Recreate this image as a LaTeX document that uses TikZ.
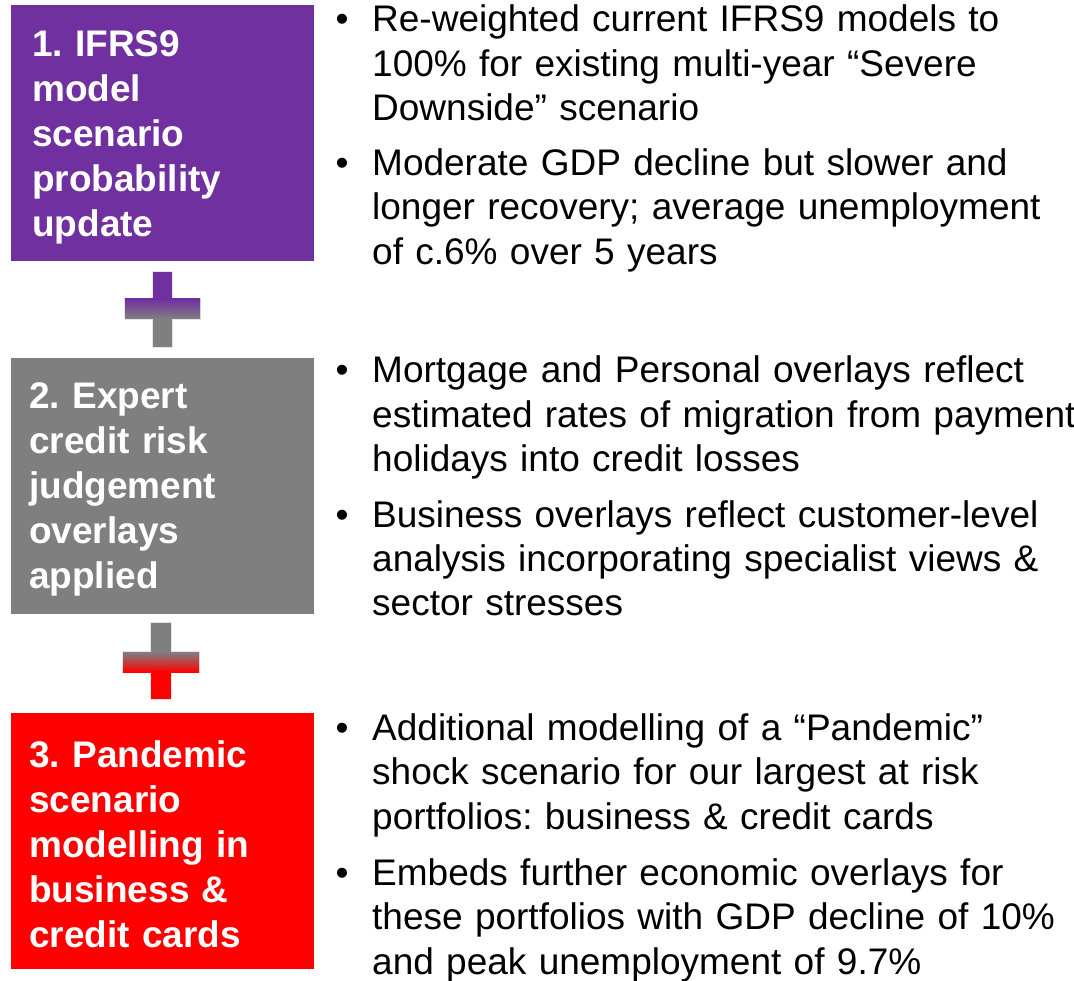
\documentclass[tikz,border=0pt]{standalone}
\usepackage{fontspec}
\setmainfont{Liberation Sans}
\definecolor{ifrspurple}{HTML}{7030A0}
\definecolor{expertgrey}{HTML}{7F7F7F}
\definecolor{pandemicred}{HTML}{FF0000}
\frenchspacing

\begin{document}
\begin{tikzpicture}[x=1pt, y=-1pt]

\tikzstyle{stepbox}=[draw=none, inner sep=0pt, minimum width=303pt, minimum height=256pt, anchor=north west]
\tikzstyle{boxtext}=[anchor=base west, inner sep=0pt, text=white, text width=285pt, align=left, font=\fontsize{37}{45}\selectfont\bfseries]
\tikzstyle{bullettext}=[anchor=base west, inner sep=0pt, text width=800pt, align=left, font=\fontsize{37}{44.5}\selectfont]
\tikzstyle{bulletdot}=[anchor=base, inner sep=0pt, font=\fontsize{37}{44.5}\selectfont]
\tikzstyle{plusedge}=[draw=white!80!gray, line width=1.5pt]

\useasboundingbox (0,0) rectangle (1074,981);

% the three coloured steps
\node[stepbox, fill=ifrspurple] (box1) at (11,5) {};
\node[stepbox, fill=expertgrey] (box2) at (11,358) {};
\node[stepbox, fill=pandemicred] (box3) at (11,713) {};

\node[boxtext] (lab1) at (32,57) {1. IFRS9\\model\\scenario\\probability\\update};
\node[boxtext] (lab2) at (29,409) {2. Expert\\credit risk\\judgement\\overlays\\applied};
\node[boxtext] (lab3) at (29,767) {3. Pandemic\\scenario\\modelling in\\business \&\\credit cards};

% plus between step 1 and step 2
\draw[plusedge] (153,272) -- (172,272) -- (172,299) -- (200,299) -- (200,319) -- (172,319) -- (172,347) -- (153,347) -- (153,319) -- (125,319) -- (125,299) -- (153,299) -- cycle;
\fill[ifrspurple] (153,272) rectangle (172,300);
\shade[top color=ifrspurple, bottom color=expertgrey] (125,299) rectangle (200,319);
\fill[expertgrey] (153,318) rectangle (172,347);

% plus between step 2 and step 3
\draw[plusedge] (151,623) -- (171,623) -- (171,652) -- (199,652) -- (199,672) -- (171,672) -- (171,699) -- (151,699) -- (151,672) -- (123,672) -- (123,652) -- (151,652) -- cycle;
\fill[expertgrey] (151,623) rectangle (171,653);
\shade[top color=expertgrey, bottom color=pandemicred] (123,652) rectangle (199,672);
\fill[pandemicred] (151,671) rectangle (171,699);

% bullet points
\node[bulletdot] (dot1a) at (342,32) {•};
\node[bullettext] (txt1a) at (372,32) {Re-weighted current IFRS9 models to\\100\% for existing multi-year “Severe\\Downside” scenario};
\node[bulletdot] (dot1b) at (342,175.5) {•};
\node[bullettext] (txt1b) at (372,175.5) {Moderate GDP decline but slower and\\longer recovery; average unemployment\\of c.6\% over 5 years};

\node[bulletdot] (dot2a) at (342,383) {•};
\node[bullettext] (txt2a) at (372,383) {Mortgage and Personal overlays reflect\\estimated rates of migration from payment\\holidays into credit losses};
\node[bulletdot] (dot2b) at (342,527) {•};
\node[bullettext] (txt2b) at (372,527) {Business overlays reflect customer-level\\analysis incorporating specialist views \&\\sector stresses};

\node[bulletdot] (dot3a) at (342,740) {•};
\node[bullettext] (txt3a) at (372,740) {Additional modelling of a “Pandemic”\\shock scenario for our largest at risk\\portfolios: business \& credit cards};
\node[bulletdot] (dot3b) at (342,885) {•};
\node[bullettext] (txt3b) at (372,885) {Embeds further economic overlays for\\these portfolios with GDP decline of 10\%\\and peak unemployment of 9.7\%};

\end{tikzpicture}
\end{document}
